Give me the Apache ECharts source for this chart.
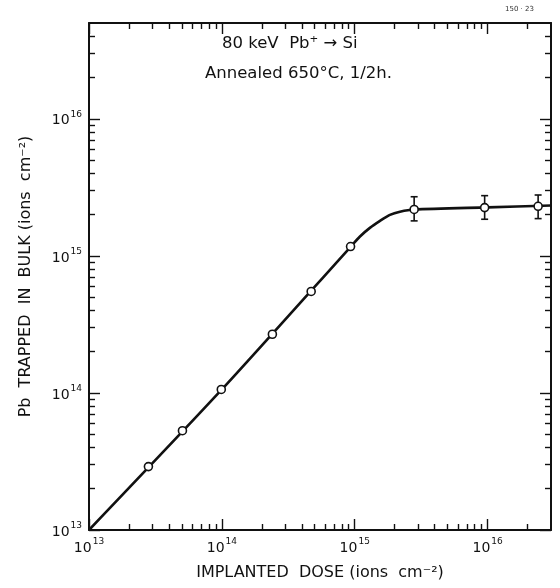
<!DOCTYPE html>
<html><head><meta charset="utf-8">
<script src="https://cdn.jsdelivr.net/npm/echarts@6/dist/echarts.min.js"></script>
<style>html,body{margin:0;padding:0;background:#fff}#c{width:560px;height:588px}</style>
</head><body><div id="c"></div>
<script>
// ---- data ----
var doseX   = [2.8e13, 5.05e13, 9.9e13, 2.4e14, 4.7e14, 9.3e14, 2.8e15, 9.5e15, 2.4e16];
var trapped = [2.9e13, 5.3e13, 1.06e14, 2.68e14, 5.5e14, 1.17e15, 2.18e15, 2.25e15, 2.3e15];
var errLow  = [null, null, null, null, null, null, 1.8e15, 1.85e15, 1.87e15];
var errHigh = [null, null, null, null, null, null, 2.7e15, 2.75e15, 2.78e15];
var curveX  = [1e13, 1e14, 9.5e14, 1.09e15, 1.30e15, 1.55e15, 1.84e15, 2.19e15, 2.8e15, 1e16, 3e16];
var curveY  = [1e13, 1.06e14, 1.19e15, 1.38e15, 1.60e15, 1.80e15, 1.99e15, 2.10e15, 2.18e15, 2.26e15, 2.33e15];
var xMajorExps = [13, 14, 15, 16];
var yMajorExps = [13, 14, 15, 16];
var xMin = 1e13, xMax = 3e16, yMin = 1e13, yMax = 5e16;
var line1 = '80 keV  Pb\u207A \u2192 Si';
var line2 = 'Annealed 650\u00B0C, 1/2h.';
var xTitle = 'IMPLANTED  DOSE (ions  cm\u207B\u00B2)';
var yTitle = 'Pb  TRAPPED  IN  BULK (ions  cm\u207B\u00B2)';
var figId = '150 \u00B7 23';

// ---- build ----
function minorTicks(lo, hi) {
  var out = [];
  for (var d = Math.floor(Math.log10(lo)); d <= Math.ceil(Math.log10(hi)); d++) {
    for (var k = 2; k <= 9; k++) {
      var v = Math.log10(k) + d;
      if (v > Math.log10(lo) + 1e-9 && v < Math.log10(hi) - 1e-9) out.push(v);
    }
  }
  return out;
}
var LX0 = Math.log10(xMin), LX1 = Math.log10(xMax), LY0 = Math.log10(yMin), LY1 = Math.log10(yMax);
var FONT = 'DejaVu Sans';
var rich = {
  b: {fontSize: 14, fontFamily: FONT, color: '#111', lineHeight: 18, verticalAlign: 'bottom'},
  s: {fontSize: 9, fontFamily: FONT, color: '#111', lineHeight: 18, verticalAlign: 'top', padding: [0, 0, 0, 1]}
};
function fmt(v) { return '{b|10}{s|' + Math.round(v) + '}'; }
var lineStyle = {color: '#111', width: 2};

function tickAxis(pos, lo, hi, majors, showLine, major, labels, extra) {
  var a = {
    type: 'value', position: pos, min: lo, max: hi,
    axisLine: {show: showLine, lineStyle: lineStyle, onZero: false},
    axisTick: {show: true, inside: true, length: major ? 11 : 6, lineStyle: {color: '#111', width: 1.4},
               customValues: major ? majors : minorTicks(Math.pow(10, lo), Math.pow(10, hi))},
    axisLabel: labels ? {show: true, customValues: majors, formatter: fmt, rich: rich, margin: 7} : {show: false},
    splitLine: {show: false}
  };
  for (var k in extra) a[k] = extra[k];
  return a;
}

var option = {
  animation: false,
  backgroundColor: '#fff',
  grid: {left: 89, right: 9, top: 23, bottom: 58},
  xAxis: [
    {type: 'log', logBase: 10, min: xMin, max: xMax, show: false},
    tickAxis('bottom', LX0, LX1, xMajorExps, true, true, true,
      {name: xTitle, nameLocation: 'middle', nameGap: 35,
       nameTextStyle: {fontFamily: FONT, fontSize: 16, color: '#111'}}),
    tickAxis('bottom', LX0, LX1, xMajorExps, false, false, false),
    tickAxis('top', LX0, LX1, xMajorExps, true, true, false),
    tickAxis('top', LX0, LX1, xMajorExps, false, false, false)
  ],
  yAxis: [
    {type: 'log', logBase: 10, min: yMin, max: yMax, show: false},
    tickAxis('left', LY0, LY1, yMajorExps, true, true, true,
      {name: yTitle, nameLocation: 'middle', nameGap: 55, nameRotate: 90,
       nameTextStyle: {fontFamily: FONT, fontSize: 16, color: '#111'}}),
    tickAxis('left', LY0, LY1, yMajorExps, false, false, false),
    tickAxis('right', LY0, LY1, yMajorExps, true, true, false),
    tickAxis('right', LY0, LY1, yMajorExps, false, false, false)
  ],
  graphic: [
    {type: 'text', left: 222, top: 35, style: {text: line1, fontFamily: FONT, fontSize: 16.5, fill: '#111'}},
    {type: 'text', left: 205, top: 65, style: {text: line2, fontFamily: FONT, fontSize: 16.5, fill: '#111'}},
    {type: 'text', left: 505, top: 6, style: {text: figId, fontFamily: FONT, fontSize: 7, fill: '#333'}}
  ],
  series: [
    {type: 'line', xAxisIndex: 0, yAxisIndex: 0, showSymbol: false, smooth: 0.25,
     lineStyle: {color: '#111', width: 2.6},
     data: curveX.map(function (x, i) { return [x, curveY[i]]; }), z: 2},
    {type: 'custom', xAxisIndex: 0, yAxisIndex: 0, z: 3,
     data: doseX.map(function (x, i) { return [x, errLow[i], errHigh[i]]; }).filter(function (d) { return d[1] != null; }),
     renderItem: function (params, api) {
       var lo = api.coord([api.value(0), api.value(1)]);
       var hi = api.coord([api.value(0), api.value(2)]);
       var w = 3.5;
       var st = {stroke: '#111', lineWidth: 1.6};
       return {type: 'group', children: [
         {type: 'line', shape: {x1: lo[0], y1: lo[1], x2: hi[0], y2: hi[1]}, style: st},
         {type: 'line', shape: {x1: lo[0] - w, y1: lo[1], x2: lo[0] + w, y2: lo[1]}, style: st},
         {type: 'line', shape: {x1: hi[0] - w, y1: hi[1], x2: hi[0] + w, y2: hi[1]}, style: st}
       ]};
     }},
    {type: 'scatter', xAxisIndex: 0, yAxisIndex: 0, z: 4, symbol: 'circle', symbolSize: 8,
     itemStyle: {color: '#ffffff', borderColor: '#111', borderWidth: 1.6, opacity: 1},
     data: doseX.map(function (x, i) { return [x, trapped[i]]; })}
  ]
};
var chart = echarts.init(document.getElementById('c'), null, {renderer: 'canvas'});
chart.setOption(option);
</script></body></html>
